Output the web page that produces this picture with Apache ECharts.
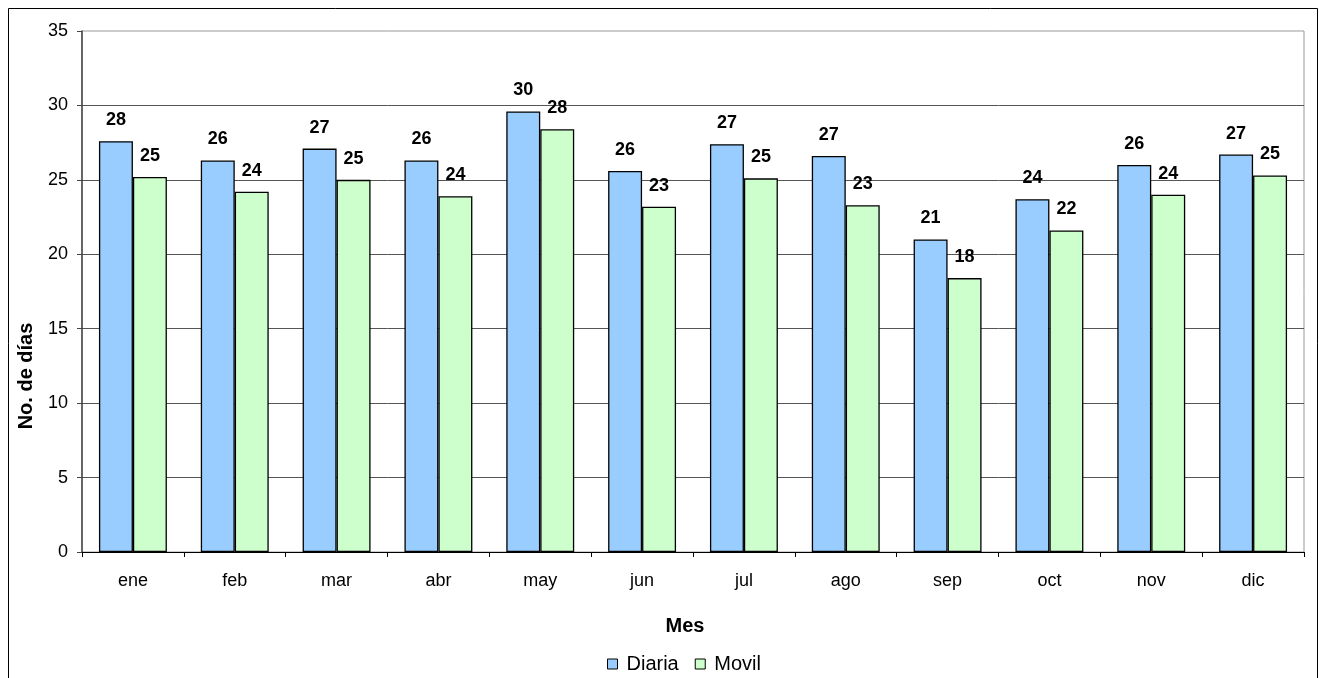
<!DOCTYPE html>
<html>
<head>
<meta charset="utf-8">
<style>
  html, body { margin: 0; padding: 0; background: #fff; }
  #chart { width: 1319px; height: 678px; }
</style>
<script src="https://cdn.jsdelivr.net/npm/echarts@6/dist/echarts.min.js"></script>
</head>
<body>
<div id="chart"></div>
<script>
// Meses del año
const meses = ['ene', 'feb', 'mar', 'abr', 'may', 'jun', 'jul', 'ago', 'sep', 'oct', 'nov', 'dic'];
// Número de días por mes para cada serie
const diaria = [27.6, 26.3, 27.1, 26.3, 29.6, 25.6, 27.4, 26.6, 21.0, 23.7, 26.0, 26.7];
const movil  = [25.2, 24.2, 25.0, 23.9, 28.4, 23.2, 25.1, 23.3, 18.4, 21.6, 24.0, 25.3];
// Escala del eje de valores
const ejeY = { min: 0, max: 35, interval: 5 };

const FONT = '"Liberation Sans", Arial, sans-serif';

const chart = echarts.init(document.getElementById('chart'), null, { renderer: 'canvas' });

const etiqueta = {
  show: true,
  position: 'top',
  distance: 12,
  color: '#000',
  fontFamily: FONT,
  fontWeight: 'bold',
  fontSize: 18,
  formatter: p => Math.round(p.value)
};

chart.setOption({
  backgroundColor: '#fff',
  animation: false,
  textStyle: { fontFamily: FONT },
  grid: {
    left: 82, right: 15, top: 31, bottom: 126,
    show: true, borderColor: '#999', borderWidth: 1, backgroundColor: 'transparent'
  },
  legend: {
    data: ['Diaria', 'Movil'],
    left: 607, top: 654,
    padding: 0,
    icon: 'rect',
    itemWidth: 10, itemHeight: 10,
    itemGap: 16,
    itemStyle: { borderColor: '#000', borderWidth: 1 },
    textStyle: { fontFamily: FONT, fontSize: 20, color: '#000', padding: [0, 0, 0, 4] }
  },
  xAxis: {
    type: 'category',
    data: meses,
    axisLine: { lineStyle: { color: '#000', width: 1 } },
    axisTick: { show: true, alignWithLabel: false, length: 5, lineStyle: { color: '#000' } },
    axisLabel: { color: '#000', fontFamily: FONT, fontSize: 18, margin: 20 },
    splitLine: { show: false }
  },
  yAxis: {
    type: 'value',
    min: ejeY.min, max: ejeY.max, interval: ejeY.interval,
    axisLine: { show: true, lineStyle: { color: '#444', width: 1.5 } },
    axisTick: { show: true, length: 5, lineStyle: { color: '#444' } },
    axisLabel: { color: '#000', fontFamily: FONT, fontSize: 18, margin: 14 },
    splitLine: { show: true, showMaxLine: false, lineStyle: { color: '#555', width: 1 } }
  },
  series: [
    {
      name: 'Diaria', type: 'bar', data: diaria,
      barGap: '0%', barCategoryGap: '33.3%',
      itemStyle: { color: '#99CCFF', borderColor: '#000', borderWidth: 1.3 },
      label: etiqueta
    },
    {
      name: 'Movil', type: 'bar', data: movil,
      barGap: '0%', barCategoryGap: '33.3%',
      itemStyle: { color: '#CCFFCC', borderColor: '#000', borderWidth: 1.3 },
      label: etiqueta
    }
  ],
  graphic: [
    {
      type: 'rect', silent: true, z: -1,
      shape: { x: 8.5, y: 8.5, width: 1309, height: 700 },
      style: { fill: null, stroke: '#000', lineWidth: 1 }
    },
    {
      type: 'text', x: 26, y: 376, rotation: Math.PI / 2,
      style: {
        text: 'No. de días', fontFamily: FONT, fontWeight: 'bold', fontSize: 20,
        fill: '#000', align: 'center', verticalAlign: 'middle'
      }
    },
    {
      type: 'text', x: 685, y: 626,
      style: {
        text: 'Mes', fontFamily: FONT, fontWeight: 'bold', fontSize: 20,
        fill: '#000', align: 'center', verticalAlign: 'middle'
      }
    }
  ]
});
</script>
</body>
</html>
